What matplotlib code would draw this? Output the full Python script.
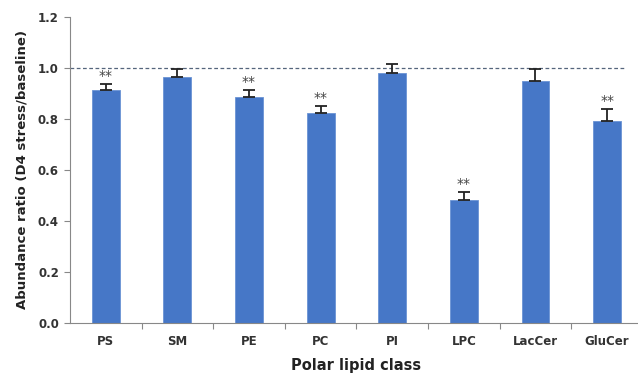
import numpy as np
import matplotlib
matplotlib.use("Agg")
import matplotlib.pyplot as plt

# data
lipid_classes = ["PS", "SM", "PE", "PC", "PI", "LPC", "LacCer", "GluCer"]
ratios = [0.914, 0.965, 0.886, 0.824, 0.980, 0.482, 0.949, 0.792]
errors = [0.023, 0.032, 0.028, 0.027, 0.035, 0.031, 0.047, 0.046]
significant = [True, False, True, True, False, True, False, True]

plt.rcParams['font.family'] = ['DejaVu Sans']

fig = plt.figure(figsize=(6.38, 3.76), dpi=100)
ax = fig.add_axes([0.1097, 0.141, 0.898, 0.814])

x = np.arange(len(lipid_classes))
bar_color = "#4677C7"
ax.bar(x, ratios, width=0.39, color=bar_color, edgecolor="#6A93D4", linewidth=0.6, zorder=2)
ax.errorbar(x, ratios, yerr=[np.zeros(len(errors)), errors], fmt="none",
            ecolor="#222222", elinewidth=1.3, capsize=4, capthick=1.3, zorder=3)

# significance marks
for xi, r, e, s in zip(x, ratios, errors, significant):
    if s:
        ax.text(xi, r + e + 0.004, "**", ha="center", va="bottom",
                fontsize=10, color="#444444")

# baseline
ax.plot([-0.5, 7.25], [1.0, 1.0], linestyle=(0, (3, 2)), color="#55657C", linewidth=0.9, zorder=1)

ax.set_xlim(-0.5, len(lipid_classes) - 0.5)
ax.set_ylim(0, 1.2)
ax.set_yticks(np.arange(0, 1.21, 0.2))
ax.set_yticklabels([f"{v:.1f}" for v in np.arange(0, 1.21, 0.2)])
ax.set_xticks(x)
ax.set_xticklabels(lipid_classes)
ax.set_xticks(np.arange(0.5, len(lipid_classes) - 1, 1.0), minor=True)

for lbl in ax.get_xticklabels() + ax.get_yticklabels():
    lbl.set_fontweight("bold")
    lbl.set_fontsize(8.5)
    lbl.set_color("#333333")

ax.tick_params(axis="x", which="major", length=0, pad=9)
ax.tick_params(axis="x", which="minor", length=4, color="#888888", width=0.8)
ax.tick_params(axis="y", length=4, color="#888888", width=0.8, pad=4)

for side in ["top", "right"]:
    ax.spines[side].set_visible(False)
for side in ["left", "bottom"]:
    ax.spines[side].set_color("#888888")
    ax.spines[side].set_linewidth(0.8)

ax.set_xlabel("Polar lipid class", fontsize=10.5, fontweight="bold", color="#222222", labelpad=7)
ax.set_ylabel("Abundance ratio (D4 stress/baseline)", fontsize=9.5, fontweight="bold",
              color="#222222", labelpad=7)

fig.savefig("out.png", dpi=100)
